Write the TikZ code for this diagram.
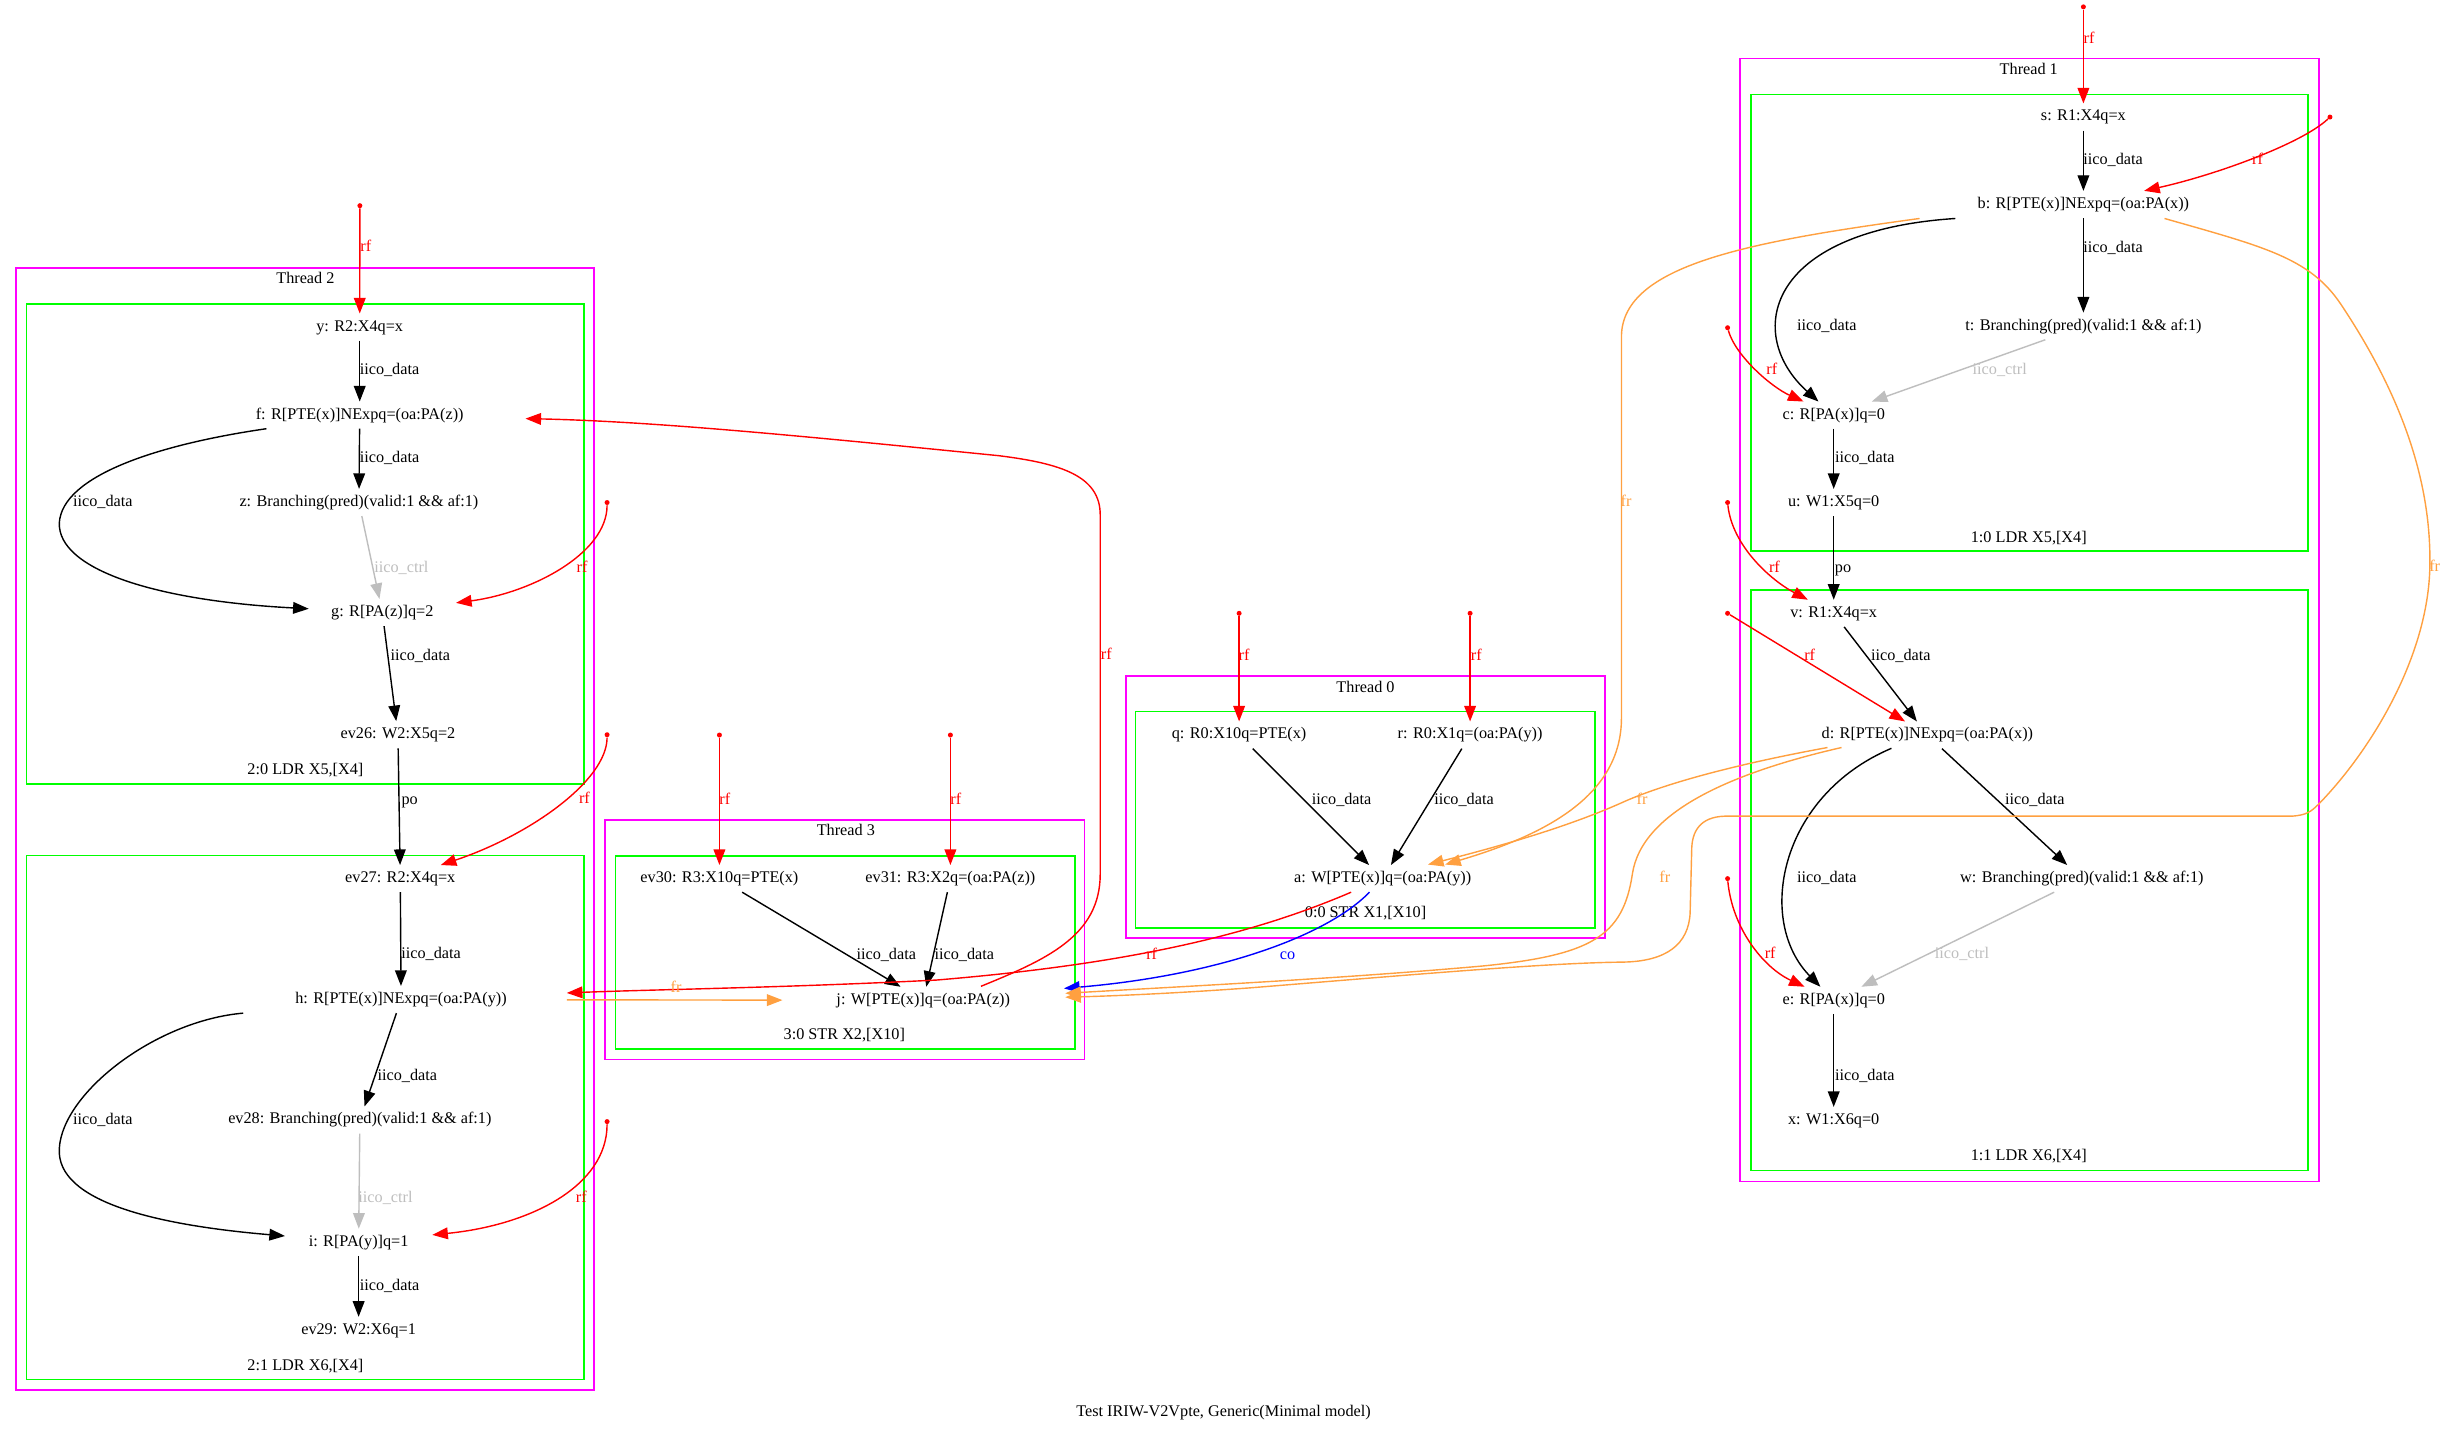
\documentclass[tikz,border=0pt]{standalone}
\usepackage{fontspec}
\setmainfont{Liberation Serif}
\usetikzlibrary{arrows.meta}
\definecolor{frc}{RGB}{255,160,64}
\definecolor{ctrlc}{RGB}{190,190,190}
\definecolor{clmag}{RGB}{255,0,255}
\definecolor{clgrn}{RGB}{0,255,0}
\begin{document}
\begin{tikzpicture}[x=1pt,y=-1pt,font=\fontsize{10.4}{12}\selectfont,
  ev/.style={inner sep=0pt,minimum height=17pt,text height=7.5pt,text depth=2.5pt},
  lbl/.style={inner sep=0pt,text height=7.5pt,text depth=2.5pt},
  datl/.style={lbl,text=black},
  ctll/.style={lbl,text=ctrlc},
  rfl/.style={lbl,text=red},
  frl/.style={lbl,text=frc},
  col/.style={lbl,text=blue},
  base/.style={line width=0.9pt,-{Triangle[length=10pt,width=7.5pt]}},
  dat/.style={base,draw=black},
  ctl/.style={base,draw=ctrlc},
  rfe/.style={base,draw=red},
  fre/.style={base,draw=frc},
  coe/.style={base,draw=blue},
  dot/.style={circle,fill=red,inner sep=0pt,minimum size=3.2pt},
  thr/.style={draw=clmag,line width=1pt},
  ins/.style={draw=clgrn,line width=1pt}]
\fill[white] (0,0) rectangle (1568,917.6);
\useasboundingbox (0,0) rectangle (1568,917.6);

% clusters
\draw[thr] (10.1,171.6) rectangle (380.8,890.7);
\draw[ins] (17,194.7) rectangle (374.2,502.2);
\draw[ins] (17,548.2) rectangle (374.2,884);
\draw[thr] (387.8,525.5) rectangle (695,679);
\draw[ins] (394.5,548.5) rectangle (688.8,672);
\draw[thr] (721.6,433) rectangle (1028.6,601);
\draw[ins] (727.6,456) rectangle (1022,594.5);
\draw[thr] (1115,37.5) rectangle (1486,757);
\draw[ins] (1122,60.6) rectangle (1479,353);
\draw[ins] (1122,378) rectangle (1479,750);

\node[lbl] (th2) at (195.7,179) {Thread 2};
\node[lbl] (c20) at (195.7,493.5) {2:0 LDR X5,[X4]};
\node[lbl] (c21) at (195.7,875.8) {2:1 LDR X6,[X4]};
\node[lbl] (th3) at (542,533) {Thread 3};
\node[lbl] (c30) at (541,663.6) {3:0 STR X2,[X10]};
\node[lbl] (th0) at (875,441) {Thread 0};
\node[lbl] (c00) at (875,585.7) {0:0 STR X1,[X10]};
\node[lbl] (th1) at (1300,45) {Thread 1};
\node[lbl] (c10) at (1300,345) {1:0 LDR X5,[X4]};
\node[lbl] (c11) at (1300,741) {1:1 LDR X6,[X4]};
\node[lbl] (title) at (784,905) {Test IRIW-V2Vpte, Generic(Minimal model)};

% events thread 2
\node[ev,minimum width=90pt] (ny) at (230.5,209.6) {y: R2:X4q=x};
\node[ev,minimum width=212pt] (nf) at (230.5,266) {f: R[PTE(x)]NExpq=(oa:PA(z))};
\node[ev,minimum width=330pt] (nz) at (230,322) {z: Branching(pred)(valid:1 \&\& af:1)};
\node[ev,minimum width=94pt] (ng) at (245,392.5) {g: R[PA(z)]q=2};
\node[ev,minimum width=110pt] (nev26) at (255,470.8) {ev26: W2:X5q=2};
\node[ev,minimum width=110pt] (nev27) at (256.5,563) {ev27: R2:X4q=x};
\node[ev,minimum width=212pt] (nh) at (257,640.5) {h: R[PTE(x)]NExpq=(oa:PA(y))};
\node[ev,minimum width=330pt] (nev28) at (230.6,717.7) {ev28: Branching(pred)(valid:1 \&\& af:1)};
\node[ev,minimum width=94pt] (ni) at (229.8,796) {i: R[PA(y)]q=1};
\node[ev,minimum width=110pt] (nev29) at (229.8,852.5) {ev29: W2:X6q=1};
% thread 3
\node[ev,minimum width=140pt] (nev30) at (461,563) {ev30: R3:X10q=PTE(x)};
\node[ev,minimum width=140pt] (nev31) at (609,563) {ev31: R3:X2q=(oa:PA(z))};
\node[ev,minimum width=180pt] (nj) at (591.6,641) {j: W[PTE(x)]q=(oa:PA(z))};
% thread 0
\node[ev,minimum width=140pt] (nq) at (794,471) {q: R0:X10q=PTE(x)};
\node[ev,minimum width=140pt] (nr) at (942,471) {r: R0:X1q=(oa:PA(y))};
\node[ev,minimum width=180pt] (na) at (886,563) {a: W[PTE(x)]q=(oa:PA(y))};
% thread 1
\node[ev,minimum width=90pt] (ns) at (1335,75) {s: R1:X4q=x};
\node[ev,minimum width=212pt] (nb) at (1335,131) {b: R[PTE(x)]NExpq=(oa:PA(x))};
\node[ev,minimum width=330pt] (nt) at (1335,209) {t: Branching(pred)(valid:1 \&\& af:1)};
\node[ev,minimum width=94pt] (nc) at (1175,266) {c: R[PA(x)]q=0};
\node[ev,minimum width=110pt] (nu) at (1175,322) {u: W1:X5q=0};
\node[ev,minimum width=90pt] (nv) at (1175,393) {v: R1:X4q=x};
\node[ev,minimum width=212pt] (nd) at (1235,471) {d: R[PTE(x)]NExpq=(oa:PA(x))};
\node[ev,minimum width=330pt] (nw) at (1334,563) {w: Branching(pred)(valid:1 \&\& af:1)};
\node[ev,minimum width=94pt] (ne) at (1175,641) {e: R[PA(x)]q=0};
\node[ev,minimum width=110pt] (nx) at (1175,718) {x: W1:X6q=0};

% rf source dots
\node[dot] (rfA) at (230.6,131.8) {};
\node[dot] (rfB) at (389,322) {};
\node[dot] (rfC) at (389,470.8) {};
\node[dot] (rfD) at (389,718.7) {};
\node[dot] (rfE) at (461,471) {};
\node[dot] (rfF) at (609,471) {};
\node[dot] (rfG) at (794,393) {};
\node[dot] (rfH) at (942,393) {};
\node[dot] (rfI) at (1335,4.4) {};
\node[dot] (rfJ) at (1493,75) {};
\node[dot] (rfK) at (1107,210) {};
\node[dot] (rfL) at (1107,322) {};
\node[dot] (rfM) at (1107,393) {};
\node[dot] (rfN) at (1107,563) {};

% thread 2 edges
\draw[rfe] (rfA) -- (ny);
\draw[dat] (ny) -- (nf);
\draw[dat] (nf) -- (nz);
\draw[dat] (nf) .. controls (100,285) and (40,305) .. (38,335) .. controls (37,365) and (100,385) .. (ng);
\draw[ctl] (nz) -- (ng);
\draw[rfe] (rfB) .. controls (389,355) and (340,380) .. (ng);
\draw[dat] (ng) -- (nev26);
\draw[dat] (nev26) -- (nev27);
\draw[rfe] (rfC) .. controls (389,500) and (340,535) .. (nev27);
\draw[dat] (nev27) -- (nh);
\draw[dat] (nh) -- (nev28);
\draw[dat] (nh) .. controls (100,654) and (40,700) .. (38,736) .. controls (36,770) and (100,785) .. (ni);
\draw[ctl] (nev28) -- (ni);
\draw[rfe] (rfD) .. controls (389,760) and (340,785) .. (ni);
\draw[dat] (ni) -- (nev29);
% thread 3 edges
\draw[rfe] (rfE) -- (nev30);
\draw[rfe] (rfF) -- (nev31);
\draw[dat] (nev30) -- (nj);
\draw[dat] (nev31) -- (nj);
% thread 0 edges
\draw[rfe] (rfG) -- (nq);
\draw[rfe] (rfH) -- (nr);
\draw[dat] (nq) -- (na);
\draw[dat] (nr) -- (na);
% thread 1 edges
\draw[rfe] (rfI) -- (ns);
\draw[dat] (ns) -- (nb);
\draw[rfe] (rfJ) .. controls (1475,92) and (1420,112) .. (nb);
\draw[dat] (nb) -- (nt);
\draw[dat] ([shift={(-82,9)}]nb.center) .. controls (1130,148) and (1118,215) .. (nc);
\draw[ctl] (nt) -- (nc);
\draw[rfe] (rfK) .. controls (1112,228) and (1135,248) .. (nc);
\draw[dat] (nc) -- (nu);
\draw[dat] (nu) -- (nv);
\draw[rfe] (rfL) .. controls (1110,350) and (1135,372) .. (nv);
\draw[rfe] (rfM) -- (nd);
\draw[dat] (nv) -- (nd);
\draw[dat] (nd) -- (nw);
\draw[dat] ([shift={(-23,8.5)}]nd.center) .. controls (1140,510) and (1125,590) .. (ne);
\draw[ctl] (nw) -- (ne);
\draw[rfe] (rfN) .. controls (1110,595) and (1130,620) .. (ne);
\draw[dat] (ne) -- (nx);

% cross-thread edges
\draw[rfe] (na) .. controls (800,600) and (720,618) .. (600,628) .. controls (500,633) and (420,634) .. (nh);
\draw[coe] (na) .. controls (850,600) and (780,625) .. (nj);
\draw[fre] (nh) -- (nj);
\draw[rfe] ([shift={(37,-9)}]nj.center) .. controls (670,615) and (705,600) .. (705,560) -- (705,330) .. controls (705,305) and (680,297) .. (640,292) .. controls (520,280) and (420,270) .. (nf);
\draw[fre] ([shift={(-105,9)}]nb.center) .. controls (1120,155) and (1040,170) .. (1039,215) -- (1039,460) .. controls (1039,510) and (990,535) .. ([shift={(40,-9)}]na.center);
\draw[fre] ([shift={(-64,8)}]nd.center) .. controls (1100,492) and (1060,505) .. (1040,514) .. controls (1000,532) and (950,545) .. ([shift={(29,-9)}]na.center);
\draw[fre] ([shift={(-55,8)}]nd.center) .. controls (1110,495) and (1052,520) .. (1046,560) .. controls (1040,600) and (1020,612) .. (950,619) .. controls (860,627) and (760,632) .. ([shift={(91,-4.5)}]nj.center);
\draw[fre] ([shift={(52,9)}]nb.center) .. controls (1450,158) and (1480,165) .. (1500,195) .. controls (1540,255) and (1558,310) .. (1557,363) .. controls (1556,420) and (1520,480) .. (1486,515) .. controls (1481,520) and (1478,522.5) .. (1468,523) -- (1105,523) .. controls (1090,523.5) and (1084,532) .. (1084,545) -- (1083,585) .. controls (1082,605) and (1068,616) .. (1040,616.5) .. controls (990,617) and (900,625) .. (801,633) .. controls (760,636) and (720,638) .. ([shift={(91,-2)}]nj.center);

% labels thread 2
\node[rfl] (L1) at (234.4,158.9) {rf};
\node[datl] (L2) at (249.6,237.5) {iico\_data};
\node[datl] (L3) at (249.6,294) {iico\_data};
\node[datl] (L4) at (65.9,321.9) {iico\_data};
\node[ctll] (L5) at (257.2,364.2) {iico\_ctrl};
\node[rfl] (L6) at (373,364.2) {rf};
\node[datl] (L7) at (269.3,420.7) {iico\_data};
\node[datl] (L8) at (262.5,513) {po};
\node[rfl] (L9) at (374.5,512.6) {rf};
\node[datl] (L10) at (276.2,612) {iico\_data};
\node[datl] (L11) at (261,689.8) {iico\_data};
\node[datl] (L12) at (65.9,718) {iico\_data};
\node[ctll] (L13) at (247,767.8) {iico\_ctrl};
\node[rfl] (L14) at (372.5,767.8) {rf};
\node[datl] (L15) at (249.6,824.4) {iico\_data};
% thread 3
\node[rfl] (L16) at (464.5,513.1) {rf};
\node[rfl] (L17) at (612.5,513.1) {rf};
\node[datl] (L18) at (567.9,612.6) {iico\_data};
\node[datl] (L19) at (617.9,612.6) {iico\_data};
% thread 0
\node[rfl] (L20) at (797.2,420.8) {rf};
\node[rfl] (L21) at (946,420.8) {rf};
\node[datl] (L22) at (859.7,513.1) {iico\_data};
\node[datl] (L23) at (938.1,513.1) {iico\_data};
% cross
\node[rfl] (L24) at (738,612.6) {rf};
\node[col] (L25) at (825.1,612.6) {co};
\node[frl] (L26) at (433.2,633.3) {fr};
\node[rfl] (L27) at (708.9,420.4) {rf};
\node[frl] (L28) at (1042,322) {fr};
\node[frl] (L29) at (1052.2,513.1) {fr};
\node[frl] (L30) at (1066.8,562.9) {fr};
\node[frl] (L31) at (1560.1,363.7) {fr};
% thread 1
\node[rfl] (L32) at (1338.6,25.3) {rf};
\node[datl] (L33) at (1354,103) {iico\_data};
\node[rfl] (L34) at (1446.6,103) {rf};
\node[datl] (L35) at (1354,159.4) {iico\_data};
\node[datl] (L36) at (1170.6,209.2) {iico\_data};
\node[ctll] (L37) at (1281.4,237.4) {iico\_ctrl};
\node[rfl] (L38) at (1135.3,237.4) {rf};
\node[datl] (L39) at (1194.9,293.8) {iico\_data};
\node[datl] (L40) at (1181,364.6) {po};
\node[rfl] (L41) at (1137,364.2) {rf};
\node[rfl] (L42) at (1159.6,420.8) {rf};
\node[datl] (L43) at (1218,420.8) {iico\_data};
\node[datl] (L44) at (1303.9,513.1) {iico\_data};
\node[datl] (L45) at (1170.6,562.9) {iico\_data};
\node[ctll] (L46) at (1257.2,612) {iico\_ctrl};
\node[rfl] (L47) at (1134.3,612) {rf};
\node[datl] (L48) at (1194.9,689.7) {iico\_data};
\end{tikzpicture}
\end{document}
